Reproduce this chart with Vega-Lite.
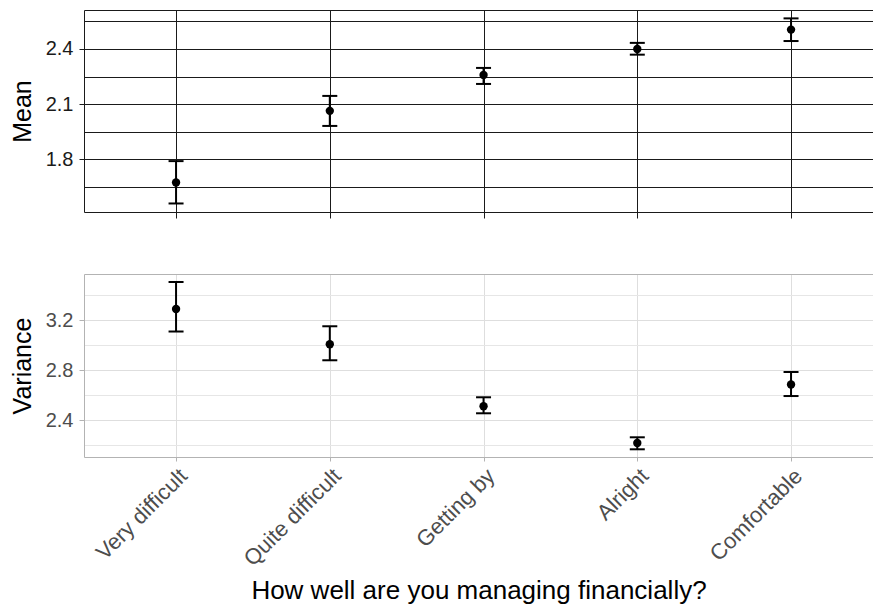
{
  "$schema": "https://vega.github.io/schema/vega-lite/v6.json",
  "padding": {"left": 10, "top": 10, "right": 0, "bottom": 0},
  "bounds": "flush",
  "spacing": 62,
  "config": {
    "font": "Liberation Sans",
    "view": {"stroke": null},
    "axis": {"labelFont": "Liberation Sans", "titleFont": "Liberation Sans", "titleFontWeight": "normal", "labelOverlap": false}
  },
  "datasets": {
    "mean": [
      {"finance": "Very difficult", "est": 1.675, "lo": 1.561, "hi": 1.791},
      {"finance": "Quite difficult", "est": 2.064, "lo": 1.982, "hi": 2.145},
      {"finance": "Getting by", "est": 2.259, "lo": 2.21, "hi": 2.297},
      {"finance": "Alright", "est": 2.4, "lo": 2.369, "hi": 2.433},
      {"finance": "Comfortable", "est": 2.505, "lo": 2.443, "hi": 2.566}
    ],
    "variance": [
      {"finance": "Very difficult", "est": 3.29, "lo": 3.11, "hi": 3.506},
      {"finance": "Quite difficult", "est": 3.008, "lo": 2.88, "hi": 3.152},
      {"finance": "Getting by", "est": 2.512, "lo": 2.456, "hi": 2.584},
      {"finance": "Alright", "est": 2.218, "lo": 2.168, "hi": 2.264},
      {"finance": "Comfortable", "est": 2.686, "lo": 2.594, "hi": 2.786}
    ]
  },
  "vconcat": [
    {
      "width": 789,
      "height": 202,
      "data": {"name": "mean"},
      "resolve": {"axis": {"y": "independent"}},
      "encoding": {
        "x": {
          "field": "finance", "type": "nominal",
          "sort": ["Very difficult", "Quite difficult", "Getting by", "Alright", "Comfortable"],
          "scale": {"type": "point", "padding": 0.5659, "align": 0.529},
          "axis": {
            "title": null, "labels": false, "grid": true, "gridColor": "#1a1a1a", "gridWidth": 1,
            "domainColor": "#1a1a1a", "tickColor": "#1a1a1a", "tickSize": 6
          }
        }
      },
      "layer": [
        {
          "mark": {"type": "rule", "color": "black", "strokeWidth": 2},
          "encoding": {
            "y": {
              "field": "lo", "type": "quantitative", "title": "Mean",
              "scale": {"domain": [1.5147, 2.6115], "zero": false, "nice": false},
              "axis": {
                "orient": "left",
                "values": [1.8, 2.1, 2.4], "format": ".1f",
                "tickSize": 5, "tickColor": "#1a1a1a", "labelPadding": 6,
                "grid": true, "gridColor": "#1a1a1a", "gridWidth": 1,
                "domainColor": "#1a1a1a", "labelColor": "#1a1a1a", "labelFontSize": 20,
                "titleColor": "black", "titleFontSize": 25, "titlePadding": 10
              }
            },
            "y2": {"field": "hi"}
          }
        },
        {
          "mark": {"type": "tick", "color": "black", "thickness": 2, "size": 15, "opacity": 1},
          "encoding": {
            "y": {
              "field": "lo", "type": "quantitative",
              "axis": {
                "orient": "right", "title": null,
                "values": [1.65, 1.95, 2.25, 2.55, 2.6115],
                "labels": false, "ticks": false, "domain": false,
                "grid": true, "gridColor": "#1a1a1a", "gridWidth": 1,
                "minExtent": 0, "maxExtent": 0
              }
            }
          }
        },
        {
          "mark": {"type": "tick", "color": "black", "thickness": 2, "size": 15, "opacity": 1},
          "encoding": {"y": {"field": "hi", "type": "quantitative", "axis": null}}
        },
        {
          "mark": {"type": "point", "filled": true, "color": "black", "size": 70, "opacity": 1},
          "encoding": {"y": {"field": "est", "type": "quantitative", "axis": null}}
        }
      ]
    },
    {
      "width": 789,
      "height": 183,
      "data": {"name": "variance"},
      "resolve": {"axis": {"y": "independent"}},
      "encoding": {
        "x": {
          "field": "finance", "type": "nominal",
          "sort": ["Very difficult", "Quite difficult", "Getting by", "Alright", "Comfortable"],
          "scale": {"type": "point", "padding": 0.5659, "align": 0.529},
          "axis": {
            "title": "How well are you managing financially?",
            "grid": true, "gridColor": "#dedede", "gridWidth": 1,
            "domainColor": "#b3b3b3", "tickColor": "#b3b3b3", "tickSize": 4,
            "labelAngle": -45, "labelAlign": "right", "labelBaseline": "top",
            "labelColor": "#4d4d4d", "labelFontSize": 22, "labelPadding": 4,
            "titleColor": "black", "titleFontSize": 26, "titlePadding": 8
          }
        }
      },
      "layer": [
        {
          "mark": {"type": "rule", "color": "black", "strokeWidth": 2},
          "encoding": {
            "y": {
              "field": "lo", "type": "quantitative", "title": "Variance",
              "scale": {"domain": [2.1064, 3.57], "zero": false, "nice": false},
              "axis": {
                "orient": "left",
                "values": [2.4, 2.8, 3.2], "format": ".1f",
                "tickSize": 5, "tickColor": "#b3b3b3", "labelPadding": 6,
                "grid": true, "gridColor": "#dedede", "gridWidth": 1,
                "domainColor": "#b3b3b3", "labelColor": "#4d4d4d", "labelFontSize": 20,
                "titleColor": "black", "titleFontSize": 25, "titlePadding": 10
              }
            },
            "y2": {"field": "hi"}
          }
        },
        {
          "mark": {"type": "tick", "color": "black", "thickness": 2, "size": 15, "opacity": 1},
          "encoding": {
            "y": {
              "field": "lo", "type": "quantitative",
              "axis": {
                "orient": "right", "title": null,
                "values": [2.2, 2.6, 3.0, 3.4],
                "labels": false, "ticks": false, "domain": false,
                "grid": true, "gridColor": "#e6e6e6", "gridWidth": 1,
                "minExtent": 0, "maxExtent": 0
              }
            }
          }
        },
        {
          "mark": {"type": "tick", "color": "black", "thickness": 2, "size": 15, "opacity": 1},
          "encoding": {
            "y": {
              "field": "hi", "type": "quantitative",
              "axis": {
                "orient": "right", "title": null,
                "values": [3.57],
                "labels": false, "ticks": false, "domain": false,
                "grid": true, "gridColor": "#b3b3b3", "gridWidth": 1,
                "minExtent": 0, "maxExtent": 0
              }
            }
          }
        },
        {
          "mark": {"type": "point", "filled": true, "color": "black", "size": 70, "opacity": 1},
          "encoding": {"y": {"field": "est", "type": "quantitative", "axis": null}}
        }
      ]
    }
  ]
}
